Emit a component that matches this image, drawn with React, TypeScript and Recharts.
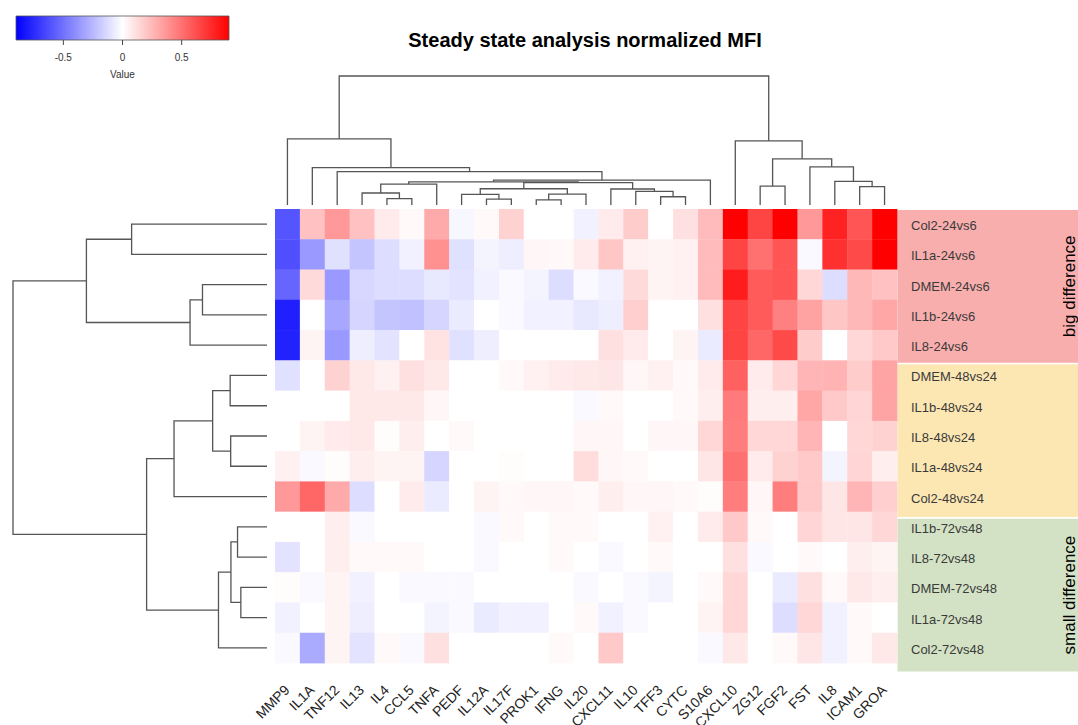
import { ScatterChart, Scatter, XAxis, YAxis, ReferenceArea } from 'recharts';

// columns (genes), left to right as ordered by the column dendrogram
const genes = ['MMP9', 'IL1A', 'TNF12', 'IL13', 'IL4', 'CCL5', 'TNFA', 'PEDF', 'IL12A', 'IL17F', 'PROK1', 'IFNG', 'IL20', 'CXCL11', 'IL10', 'TFF3', 'CYTC', 'S10A6', 'CXCL10', 'ZG12', 'FGF2', 'FST', 'IL8', 'ICAM1', 'GROA'];

// rows (comparisons), top to bottom
const samples = ['Col2-24vs6', 'IL1a-24vs6', 'DMEM-24vs6', 'IL1b-24vs6', 'IL8-24vs6', 'DMEM-48vs24', 'IL1b-48vs24', 'IL8-48vs24', 'IL1a-48vs24', 'Col2-48vs24', 'IL1b-72vs48', 'IL8-72vs48', 'DMEM-72vs48', 'IL1a-72vs48', 'Col2-72vs48'];

// normalized MFI, one row per sample
const rows24vs6 = [
  [-0.6, 0.22, 0.36, 0.22, 0.07, 0.02, 0.3, -0.03, 0.02, 0.16, 0, 0, -0.05, 0.07, 0.18, 0, 0.11, 0.24, 0.9, 0.66, 0.9, 0.36, 0.78, 0.6, 0.9],
  [-0.62, -0.36, -0.11, -0.21, -0.12, -0.05, 0.39, -0.11, -0.04, -0.06, 0.03, 0.02, 0.07, 0.2, 0.05, 0.04, 0.05, 0.24, 0.66, 0.5, 0.6, -0.02, 0.73, 0.64, 0.9],
  [-0.54, 0.13, -0.36, -0.14, -0.12, -0.12, -0.08, -0.1, -0.05, -0.02, -0.04, -0.12, -0.02, -0.05, 0.13, 0.04, 0.05, 0.24, 0.8, 0.58, 0.6, 0.14, -0.12, 0.25, 0.22],
  [-0.79, 0, -0.31, -0.15, -0.21, -0.22, -0.15, -0.07, 0, -0.02, -0.05, -0.05, -0.08, -0.06, 0.17, 0, 0, 0.11, 0.66, 0.58, 0.45, 0.33, 0.2, 0.25, 0.31],
  [-0.78, 0.04, -0.36, -0.06, -0.1, 0, 0.1, -0.11, -0.06, 0, 0, 0, 0, 0.11, 0.07, 0, 0.04, -0.07, 0.66, 0.54, 0.64, 0.18, 0, 0.14, 0.19],
];
const rows48vs24 = [
  [-0.11, 0, 0.16, 0.08, 0.05, 0.11, 0.08, 0, 0, 0.02, 0.05, 0.07, 0.08, 0.09, 0.03, 0.05, 0.02, 0.07, 0.56, 0.07, 0.14, 0.26, 0.27, 0.18, 0.32],
  [0, 0, 0, 0.08, 0.08, 0.08, 0.03, 0, 0, 0, 0, 0, -0.02, 0.02, 0, 0, 0.02, 0.06, 0.47, 0.06, 0.06, 0.31, 0.19, 0.15, 0.32],
  [0, 0.04, 0.07, 0.08, 0.01, 0.06, 0, 0.02, 0, 0, 0, 0, 0.03, 0.03, 0, 0.03, 0.03, 0.14, 0.46, 0.14, 0.14, 0.26, 0, 0.14, 0.16],
  [0.05, -0.02, 0.01, 0.06, 0.04, 0.04, -0.15, 0, 0, 0.01, 0, 0, 0.12, 0.03, 0.02, 0, 0, 0.09, 0.5, 0.07, 0.16, 0.19, -0.04, 0.15, 0.06],
  [0.36, 0.54, 0.3, -0.12, 0, 0.07, -0.07, 0, 0.04, 0.02, 0.03, 0.03, 0.02, 0.06, 0.03, 0.03, 0.02, 0.01, 0.46, 0.03, 0.46, 0.19, 0.09, 0.26, 0.17],
];
const rows72vs48 = [
  [0, 0, 0.06, -0.02, 0, 0, 0, 0, -0.02, 0.02, 0, 0.02, 0.02, 0, 0, 0.05, 0, 0.07, 0.19, 0.02, 0, 0.15, 0.09, 0.09, 0.14],
  [-0.1, 0, 0.06, 0.02, 0.02, 0.02, 0, 0, -0.02, 0, 0, 0.02, 0, -0.02, 0, 0.02, 0, 0, 0.11, -0.02, 0, 0.02, 0, 0.06, 0.04],
  [0.01, -0.02, 0.04, -0.05, 0, -0.02, -0.02, -0.02, 0, 0, 0, 0, -0.02, 0, -0.02, -0.04, 0, 0.02, 0.14, 0, -0.07, 0.11, 0.02, 0.08, 0.06],
  [-0.05, 0, 0.04, -0.06, 0, 0, -0.04, -0.02, -0.07, -0.05, -0.05, 0, 0.02, -0.05, -0.02, 0, 0, 0.04, 0.14, 0, -0.12, 0.14, -0.05, 0.02, 0],
  [-0.02, -0.3, 0.04, -0.1, 0.02, -0.02, 0.11, 0, 0, 0, 0, 0.02, 0, 0.19, 0, 0, 0, -0.02, 0.08, 0, 0.02, 0.09, -0.05, 0.02, 0.08],
];

// hclust style merges: negative = leaf (1-based), positive = earlier merge; [a, b, height]
const colMerges: [number, number, number][] = [
  [-11, -12, 0.39], [-9, -10, 0.46], [-5, -6, 0.49], [-16, -17, 0.64], [-8, 2, 0.82],
  [1, -13, 0.85], [-4, 3, 0.93], [-15, 4, 1.06], [-14, 8, 1.24], [5, 6, 1.26],
  [7, -7, 1.62], [10, 9, 1.73], [11, 12, 1.8], [13, -18, 1.93], [-3, 14, 2.58],
  [-2, 15, 2.89], [-1, 16, 5.13], [-24, -25, 1.42], [-20, -21, 1.47], [-23, 18, 1.83],
  [-22, 20, 2.96], [19, 21, 3.58], [-19, 22, 4.97], [17, 23, 10],
];
const rowMerges: [number, number, number][] = [
  [-13, -14, 1.03], [-11, -12, 1.16], [2, 1, 1.42], [-6, -7, 1.45], [-8, -9, 1.43],
  [3, -15, 1.91], [4, 5, 2.14], [-3, -4, 2.54], [8, -5, 3.03], [7, -10, 3.66],
  [10, 6, 4.74], [-1, -2, 5.33], [12, 9, 7.11], [13, 11, 10],
];

const groups = [
  { label: 'big difference', from: 0, to: 5 },
  { label: '', from: 5, to: 10 },
  { label: 'small difference', from: 10, to: 15 },
];
const groupColors = ['#f9aeae', '#fce7b3', '#d3e2c5'];

const legendTicks = [-0.5, 0, 0.5];
const LIM = 0.9;

const GRID_L = 275, GRID_R = 897, GRID_T = 209, GRID_B = 663;
const W = 1078, H = 725;
const cw = (GRID_R - GRID_L) / genes.length;
const ch = (GRID_B - GRID_T) / samples.length;
const font = '"Liberation Sans", Arial, sans-serif';
const lineColor = '#555';

const mfi = [...rows24vs6, ...rows48vs24, ...rows72vs48];
const cells = mfi.flatMap((row, r) => row.map((v, c) => ({ x: c + 0.5, y: r + 0.5, v })));

function heat(v: number) {
  const t = Math.min(1, Math.abs(v) / LIM);
  const k = Math.round(255 * (1 - t));
  return v >= 0 ? `rgb(255,${k},${k})` : `rgb(${k},${k},255)`;
}

function treeSegments(merges: [number, number, number][]) {
  const pos: number[] = [];
  const hgt: number[] = [];
  const at = (id: number) => (id < 0 ? { p: -id - 0.5, h: 0 } : { p: pos[id - 1], h: hgt[id - 1] });
  return merges.map(([a, b, h]) => {
    const l = at(a);
    const r = at(b);
    pos.push((l.p + r.p) / 2);
    hgt.push(h);
    return [{ p: l.p, h: l.h }, { p: l.p, h }, { p: r.p, h }, { p: r.p, h: r.h }];
  });
}

const colTree = treeSegments(colMerges);
const rowTree = treeSegments(rowMerges);

const noDot = () => <g />;

const Cell = (props: any) => (
  <rect x={props.cx - cw / 2} y={props.cy - ch / 2} width={cw + 0.4} height={ch + 0.4} fill={heat(props.payload.v)} />
);

const GeneTick = ({ x, y, payload }: any) => {
  const ax = x + 3;
  const ay = y + 20;
  return (
    <text x={ax} y={ay} transform={`rotate(-45 ${ax} ${ay})`} textAnchor="end" fontSize={14} fill="#222" fontFamily={font}>
      {genes[Math.floor(payload.value)]}
    </text>
  );
};

const RowLabel = (props: any) => (
  <text x={props.cx + 14} y={props.cy + 6} fontSize={13} fill="#3a3a3a" fontFamily={font}>
    {props.payload.name}
  </text>
);

const GroupLabel = (props: any) => {
  const gx = props.cx + 178;
  return (
    <text x={gx} y={props.cy} transform={`rotate(-90 ${gx} ${props.cy})`} textAnchor="middle" fontSize={17} fill="#000" fontFamily={font}>
      {props.payload.label}
    </text>
  );
};

const bandY = (r: number, end: boolean) => r * 1.02 + (end ? -0.02 : 0.03);

const App = () => {
  const rowLabelData = samples.map((name, i) => ({ x: genes.length, y: i + 0.5, name }));
  const groupLabelData = groups
    .filter((g) => g.label)
    .map((g) => ({ x: genes.length, y: (bandY(g.from, false) + bandY(g.to, true)) / 2, label: g.label }));

  return (
    <div style={{ position: 'absolute', left: 0, top: 0, width: W, height: H, background: '#fff', fontFamily: font, overflow: 'hidden' }}>
      {/* colour key */}
      <ScatterChart width={260} height={90} margin={{ top: 16, left: 16, right: 31, bottom: 0 }} style={{ position: 'absolute', left: 0, top: 0 }}>
        <defs>
          <linearGradient id="valueGrad" x1="0" y1="0" x2="1" y2="0">
            <stop offset="0%" stopColor="#0000ff" />
            <stop offset="50%" stopColor="#ffffff" />
            <stop offset="100%" stopColor="#ff0000" />
          </linearGradient>
        </defs>
        <XAxis
          type="number"
          dataKey="x"
          domain={[-LIM, LIM]}
          allowDataOverflow
          ticks={legendTicks}
          height={50}
          axisLine={false}
          tickSize={5}
          tickMargin={9}
          tickLine={{ stroke: '#444' }}
          tick={{ fontSize: 10, fill: '#333', fontFamily: font }}
          label={{ value: 'Value', position: 'insideBottom', offset: 12, fontSize: 10, fill: '#333', fontFamily: font }}
        />
        <YAxis type="number" dataKey="y" domain={[0, 1]} allowDataOverflow hide />
        <ReferenceArea x1={-LIM} x2={LIM} y1={0} y2={1} fill="url(#valueGrad)" fillOpacity={1} stroke="#555" strokeWidth={0.8} />
        <Scatter data={[]} isAnimationActive={false} />
      </ScatterChart>

      <div style={{ position: 'absolute', left: 335, width: 500, top: 28, textAlign: 'center', fontSize: 20, lineHeight: '24px', fontWeight: 'bold', color: '#000' }}>
        Steady state analysis normalized MFI
      </div>

      {/* column dendrogram */}
      <ScatterChart width={GRID_R - GRID_L} height={140} margin={{ top: 6, left: 0, right: 0, bottom: 5 }} style={{ position: 'absolute', left: GRID_L, top: 70 }}>
        <XAxis type="number" dataKey="x" domain={[0, genes.length]} hide />
        <YAxis type="number" dataKey="y" domain={[0, 10]} hide />
        {colTree.map((seg, i) => (
          <Scatter
            key={i}
            data={seg.map((q) => ({ x: q.p, y: q.h }))}
            fill={lineColor}
            line={{ stroke: lineColor, strokeWidth: 1.3 }}
            shape={noDot}
            isAnimationActive={false}
          />
        ))}
      </ScatterChart>

      {/* row dendrogram */}
      <ScatterChart width={GRID_L} height={GRID_B - GRID_T} margin={{ top: 0, left: 13, right: 8, bottom: 0 }} style={{ position: 'absolute', left: 0, top: GRID_T }}>
        <XAxis type="number" dataKey="x" domain={[0, 10]} reversed hide />
        <YAxis type="number" dataKey="y" domain={[0, samples.length]} reversed hide />
        {rowTree.map((seg, i) => (
          <Scatter
            key={i}
            data={seg.map((q) => ({ x: q.h, y: q.p }))}
            fill={lineColor}
            line={{ stroke: lineColor, strokeWidth: 1.3 }}
            shape={noDot}
            isAnimationActive={false}
          />
        ))}
      </ScatterChart>

      {/* heatmap */}
      <ScatterChart width={W} height={H} margin={{ top: GRID_T, left: GRID_L, right: W - GRID_R, bottom: H - GRID_B - 40 }} style={{ position: 'absolute', left: 0, top: 0 }}>
        <XAxis
          type="number"
          dataKey="x"
          domain={[0, genes.length]}
          ticks={genes.map((_, i) => i + 0.5)}
          interval={0}
          height={40}
          axisLine={false}
          tickLine={false}
          tick={<GeneTick />}
        />
        <YAxis type="number" dataKey="y" domain={[0, samples.length]} reversed hide />
        {groups.map((g, i) => (
          <ReferenceArea
            key={i}
            x1={genes.length + 0.02}
            x2={genes.length + (W - GRID_R) / cw + 1}
            y1={bandY(g.from, false)}
            y2={bandY(g.to, true)}
            fill={groupColors[i]}
            fillOpacity={1}
            stroke="none"
            ifOverflow="visible"
          />
        ))}
        <Scatter data={cells} shape={<Cell />} isAnimationActive={false} />
        <Scatter data={rowLabelData} shape={<RowLabel />} isAnimationActive={false} />
        <Scatter data={groupLabelData} shape={<GroupLabel />} isAnimationActive={false} />
      </ScatterChart>
    </div>
  );
};

export default App;
